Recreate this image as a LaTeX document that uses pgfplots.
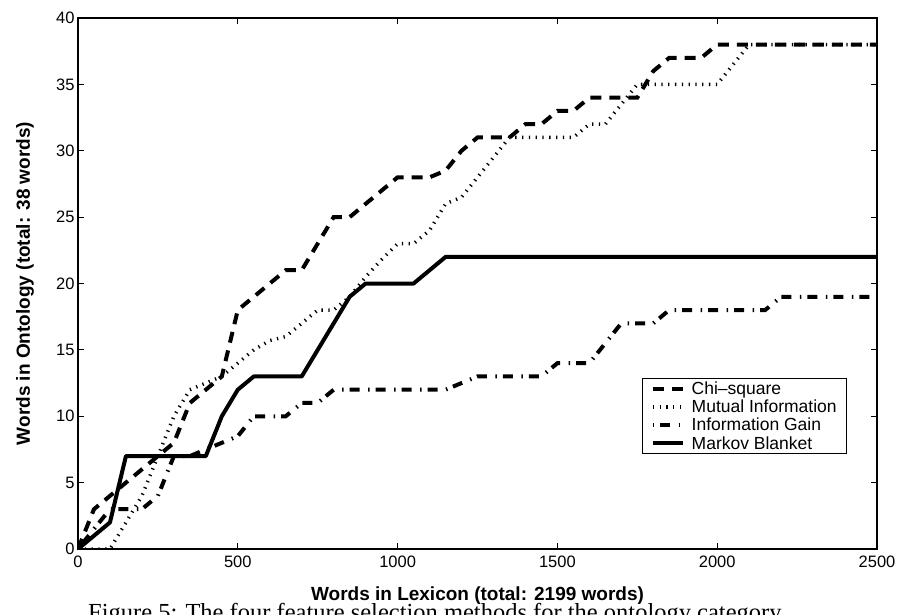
\documentclass[border=0pt]{standalone}
\usepackage{fontspec}
\setmainfont{Liberation Sans}
\newfontfamily\capfont{Liberation Serif}
\usepackage{pgfplots}
\pgfplotsset{compat=1.18}

% curves
\pgfplotstableread{
x y
0 0
50 3
100 4
150 5
200 6
250 7
300 8
350 11
400 12
450 13
500 18
550 19
600 20
650 21
700 21
750 23
800 25
850 25
900 26
950 27
1000 28
1100 28
1150 28.5
1200 30
1250 31
1350 31
1400 32
1450 32
1500 33
1550 33
1600 34
1750 34
1800 36
1850 37
1950 37
2000 38
2500 38
}\chisq
\pgfplotstableread{
x y
0 0
100 0
150 2
200 4
250 7
300 10
350 12
450 13
500 14
550 15
600 15.7
650 16
700 17
750 18
800 18
850 19
900 20.5
950 21.8
1000 23
1050 23
1100 24
1150 26
1200 26.5
1250 28
1300 29.5
1350 31
1550 31
1600 32
1650 32
1700 33.5
1750 35
2000 35
2050 36.5
2100 38
2500 38
}\mutinf
\pgfplotstableread{
x y
0 0
100 3
200 3
250 4
300 7
350 7
400 7.5
450 8
500 8.5
550 10
650 10
700 11
750 11
800 12
1150 12
1200 12.5
1250 13
1450 13
1500 14
1600 14
1650 15.5
1700 17
1800 17
1850 18
2150 18
2200 19
2500 19
}\infgain
\pgfplotstableread{
x y
0 0
100 2
150 7
400 7
450 10
500 12
550 13
700 13
850 19
900 20
1050 20
1150 22
2500 22
}\markov

\begin{document}
\begin{tikzpicture}
\begin{axis}[
  name=ax,
  scale only axis,
  width=799pt,
  height=531pt,
  xmin=0, xmax=2500,
  ymin=0, ymax=40,
  xtick={0,500,...,2500},
  ytick={0,5,...,40},
  /pgf/number format/assume math mode=true,
  /pgf/number format/set thousands separator={},
  ticklabel style={font=\fontsize{16.5}{16.5}\selectfont},
  xticklabel style={yshift=-3pt},
  major tick length=6pt,
  tick style={black, line width=0.9pt},
  axis line style={line width=1.2pt},
  xlabel={Words in Lexicon (total: 2199 words)},
  ylabel={Words in Ontology (total: 38 words)},
  label style={font=\fontsize{19}{19}\selectfont\bfseries},
  xlabel style={at={(rel axis cs:0.5,0)}, anchor=center, yshift=-47pt},
  ylabel style={at={(rel axis cs:0,0.5)}, anchor=center, yshift=53pt},
  legend image code/.code={\draw[#1] (0pt,0pt) -- (30pt,0pt);},
  legend cell align=left,
  legend style={
    at={(rel axis cs:0.9625,0.179)}, anchor=south east,
    draw=black, line width=0.8pt,
    font=\fontsize{17.5}{17.5}\selectfont,
    inner xsep=8pt, inner ysep=1pt,
    row sep=0pt,
    nodes={inner ysep=2pt},
    /tikz/every odd column/.append style={column sep=5pt},
  },
]
\addplot[black, line width=4pt, dash pattern=on 11pt off 8pt] table {\chisq};
\addlegendentry{Chi{\textendash}square}
\addplot[black, line width=3.5pt, dash pattern=on 1.3pt off 5.5pt] table {\mutinf};
\addlegendentry{Mutual Information}
\addplot[black, line width=4pt, dash pattern=on 1.5pt off 6pt on 10pt off 8.5pt] table {\infgain};
\addlegendentry{Information Gain}
\addplot[black, line width=4pt, line join=round] table {\markov};
\addlegendentry{Markov Blanket}
\end{axis}
\node[anchor=base west, inner sep=0pt, font=\capfont\fontsize{24.5}{24.5}\selectfont]
  at ([xshift=10pt, yshift=-71pt]ax.south west)
  {Figure 5: The four feature selection methods for the ontology category};
\pgfresetboundingbox
\useasboundingbox ([xshift=-78pt, yshift=-65pt]ax.south west)
  rectangle ([xshift=24pt, yshift=18pt]ax.north east);
\end{tikzpicture}
\end{document}
